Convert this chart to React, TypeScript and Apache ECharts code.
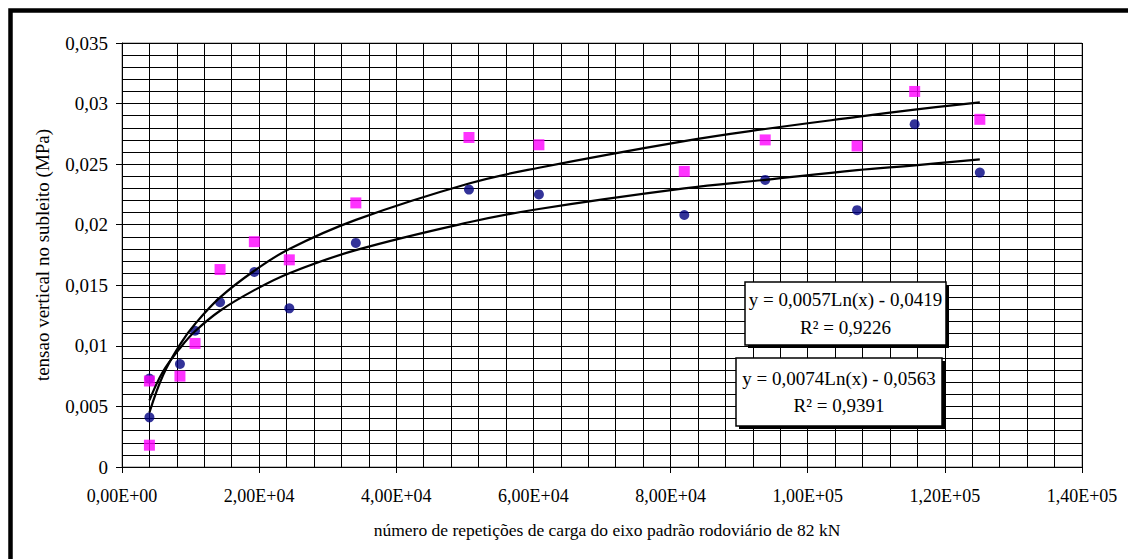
import React, { useEffect, useRef } from "react";
import * as echarts from "echarts";

const xTickLabels = ["0,00E+00", "2,00E+04", "4,00E+04", "6,00E+04", "8,00E+04", "1,00E+05", "1,20E+05", "1,40E+05"];
const yTickLabels = ["0", "0,005", "0,01", "0,015", "0,02", "0,025", "0,03", "0,035"];

const xPoints = [4000, 4000, 8450, 10650, 14300, 19300, 24400, 34100, 50600, 60800, 82000, 93800, 107200, 115600, 125100];
const yBlue = [0.0073, 0.0041, 0.0085, 0.01125, 0.0136, 0.0161, 0.0131, 0.0185, 0.0229, 0.0225, 0.0208, 0.0237, 0.0212, 0.0283, 0.0243];
const yMagenta = [0.0071, 0.0018, 0.0075, 0.0102, 0.0163, 0.0186, 0.0171, 0.0218, 0.0272, 0.0266, 0.0244, 0.027, 0.0265, 0.031, 0.0287];

const trendX = [4000, 6000, 8450, 10650, 14300, 19300, 24400, 34100, 50600, 60800, 82000, 93800, 107200, 115600, 125100];
const trendBlue = [0.0055, 0.0079, 0.0098, 0.0112, 0.0129, 0.0146, 0.016, 0.0179, 0.0202, 0.0213, 0.023, 0.0237, 0.0245, 0.0249, 0.0254];
const trendMagenta = [0.0045, 0.0076, 0.0101, 0.0118, 0.014, 0.0162, 0.018, 0.0204, 0.0234, 0.0247, 0.0269, 0.0279, 0.0289, 0.0295, 0.0301];

const eqBlue = ["y = 0,0057Ln(x) - 0,0419", "R² = 0,9226"];
const eqMagenta = ["y = 0,0074Ln(x) - 0,0563", "R² = 0,9391"];

const xTitle = "número de repetições de carga do eixo padrão rodoviário de 82 kN";
const yTitle = "tensao vertical no subleito (MPa)";

const FONT = "Liberation Serif";

function eqBox(x: number, y: number, w: number, h: number, lines: string[], y1: number, y2: number) {
  return {
    type: "group",
    z: 100,
    children: [
      { type: "rect", shape: { x: x + 3, y: y + 3, width: w, height: h }, style: { fill: "#000" }, z: 100 },
      { type: "rect", shape: { x, y, width: w, height: h }, style: { fill: "#fff", stroke: "#000", lineWidth: 1.5 }, z: 101 },
      { type: "text", x: x + w / 2, y: y1, style: { text: lines[0], fontFamily: FONT, fontSize: 19, fill: "#000", textAlign: "center", textVerticalAlign: "middle" }, z: 102 },
      { type: "text", x: x + w / 2, y: y2, style: { text: lines[1], fontFamily: FONT, fontSize: 19, fill: "#000", textAlign: "center", textVerticalAlign: "middle" }, z: 102 },
    ],
  };
}

export default function App() {
  const ref = useRef<HTMLDivElement>(null);
  useEffect(() => {
    if (!ref.current) return;
    const chart = echarts.init(ref.current, null, { renderer: "svg" });
    const gridLine = { show: true, lineStyle: { color: "#000", width: 1 } };
    chart.setOption({
      animation: false,
      backgroundColor: "#fff",
      textStyle: { fontFamily: FONT },
      grid: { left: 122, right: 46, top: 43, bottom: 92, show: true, borderColor: "#808080", borderWidth: 1 },
      xAxis: {
        type: "value",
        min: 0,
        max: 140000,
        interval: 20000,
        name: xTitle,
        nameLocation: "middle",
        nameGap: 54,
        nameTextStyle: { color: "#000", fontFamily: FONT, fontSize: 17.5, padding: [0, 0, 0, 10] },
        axisLine: { show: true, onZero: false, lineStyle: { color: "#000", width: 1 } },
        axisTick: { show: true, length: 6, lineStyle: { color: "#000" } },
        splitLine: gridLine,
        minorTick: { show: false, splitNumber: 5 },
        minorSplitLine: gridLine,
        axisLabel: {
          color: "#000",
          fontFamily: FONT,
          fontSize: 18,
          margin: 20,
          formatter: (v: number) => xTickLabels[Math.round(v / 20000)] ?? "",
        },
      },
      yAxis: {
        type: "value",
        min: 0,
        max: 0.035,
        interval: 0.005,
        name: yTitle,
        nameLocation: "middle",
        nameRotate: 90,
        nameGap: 70,
        nameTextStyle: { color: "#000", fontFamily: FONT, fontSize: 19 },
        axisLine: { show: true, onZero: false, lineStyle: { color: "#000", width: 1 } },
        axisTick: { show: true, length: 6, lineStyle: { color: "#000" } },
        splitLine: gridLine,
        minorTick: { show: false, splitNumber: 5 },
        minorSplitLine: gridLine,
        axisLabel: {
          color: "#000",
          fontFamily: FONT,
          fontSize: 19,
          margin: 14,
          formatter: (v: number) => yTickLabels[Math.round(v / 0.005)] ?? "",
        },
      },
      series: [
        {
          type: "scatter",
          name: "blue",
          data: xPoints.map((x, i) => [x, yBlue[i]]),
          symbol: "circle",
          symbolSize: 10,
          itemStyle: { color: "#000080" },
          z: 3,
        },
        {
          type: "scatter",
          name: "magenta",
          data: xPoints.map((x, i) => [x, yMagenta[i]]),
          symbol: "rect",
          symbolSize: 11,
          itemStyle: { color: "#FF00FF" },
          z: 3,
        },
        {
          type: "line",
          name: "trend blue",
          data: trendX.map((x, i) => [x, trendBlue[i]]),
          smooth: 0.4,
          showSymbol: false,
          symbol: "none",
          lineStyle: { color: "#000", width: 2.2 },
          z: 5,
        },
        {
          type: "line",
          name: "trend magenta",
          data: trendX.map((x, i) => [x, trendMagenta[i]]),
          smooth: 0.4,
          showSymbol: false,
          symbol: "none",
          lineStyle: { color: "#000", width: 2.2 },
          z: 5,
        },
      ],
      graphic: [
        {
          type: "polyline",
          silent: true,
          shape: { points: [[10.5, 559], [10.5, 10.5], [1128, 10.5]] },
          style: { fill: "none", stroke: "#000", lineWidth: 4.5 },
          z: 200,
        },
        eqBox(745, 282, 201, 63, eqBlue, 299, 327),
        eqBox(736, 358, 206, 68, eqMagenta, 378, 405),
      ],
    });
    return () => chart.dispose();
  }, []);
  return <div ref={ref} style={{ position: "fixed", left: 0, top: 0, width: 1128, height: 559, overflow: "hidden" }} />;
}
